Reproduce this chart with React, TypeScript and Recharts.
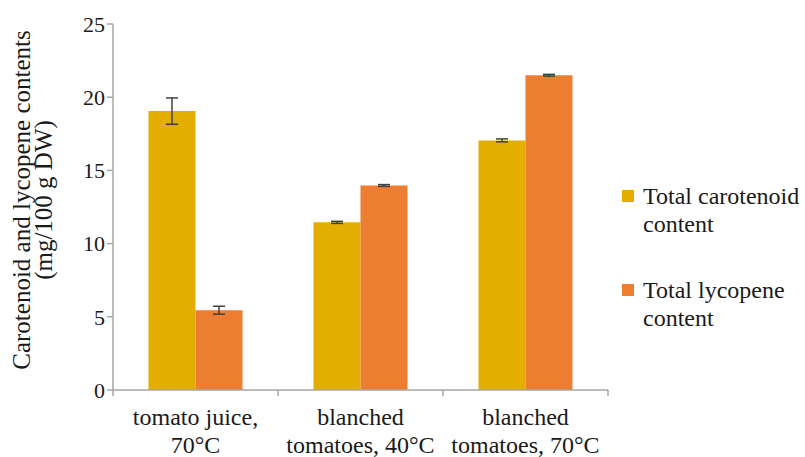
import { BarChart, Bar, XAxis, YAxis, ErrorBar, Legend } from "recharts";

const categories = ["tomato juice, 70°C", "blanched tomatoes, 40°C", "blanched tomatoes, 70°C"];
const categoryLines = [
  ["tomato juice,", "70°C"],
  ["blanched", "tomatoes, 40°C"],
  ["blanched", "tomatoes, 70°C"],
];
const carotenoid = [19.05, 11.45, 17.05];
const carotenoidErr = [0.9, 0.07, 0.1];
const lycopene = [5.45, 13.97, 21.5];
const lycopeneErr = [0.27, 0.06, 0.06];
const yTicks = [0, 5, 10, 15, 20, 25];

const data = categories.map((name, i) => ({
  name,
  carotenoid: carotenoid[i],
  carotenoidErr: carotenoidErr[i],
  lycopene: lycopene[i],
  lycopeneErr: lycopeneErr[i],
}));

const FONT = "'Liberation Serif', 'Times New Roman', serif";
const AXIS = "#a6a6a6";
const TEXT = "#1a1a1a";

function XTick(props: any) {
  const { x, y, payload, index } = props;
  const half = payload.offset || 0;
  const lines = categoryLines[index] || [String(payload.value)];
  return (
    <g>
      <line x1={x - half} y1={y} x2={x - half} y2={y + 6} stroke={AXIS} strokeWidth={1.5} />
      {index === categories.length - 1 && (
        <line x1={x + half} y1={y} x2={x + half} y2={y + 6} stroke={AXIS} strokeWidth={1.5} />
      )}
      <text x={x} y={y + 35} textAnchor="middle" fill={TEXT} fontSize={24} fontFamily={FONT}>
        {lines[0]}
      </text>
      <text x={x} y={y + 63} textAnchor="middle" fill={TEXT} fontSize={24} fontFamily={FONT}>
        {lines[1]}
      </text>
    </g>
  );
}

function YLabel(props: any) {
  const vb = props.viewBox || { y: 24, height: 366 };
  const cy = vb.y + vb.height / 2 - 7;
  return (
    <text
      transform={`translate(30, ${cy}) rotate(-90)`}
      textAnchor="middle"
      fill={TEXT}
      fontSize={25}
      fontFamily={FONT}
    >
      <tspan x={0} dy={0}>Carotenoid and lycopene contents</tspan>
      <tspan x={0} dy={22}>(mg/100 g DW)</tspan>
    </text>
  );
}

function LegendBox(props: any) {
  const items = props.payload || [];
  return (
    <div style={{ fontFamily: FONT, fontSize: 24, lineHeight: "28px", color: TEXT }}>
      {items.map((it: any, i: number) => {
        const words = String(it.value).split(" content");
        return (
          <div key={i} style={{ position: "relative", paddingLeft: 21, marginBottom: i === 0 ? 38 : 0 }}>
            <span
              style={{
                position: "absolute",
                left: 0,
                top: 8,
                width: 12,
                height: 12,
                background: it.color,
              }}
            />
            <div>{words[0]}</div>
            <div>content</div>
          </div>
        );
      })}
    </div>
  );
}

export default function App() {
  return (
    <div style={{ position: "absolute", left: 0, top: 0, background: "#fff" }}>
      <BarChart
        width={805}
        height={457}
        data={data}
        margin={{ top: 24, right: 197, bottom: 0, left: 0 }}
        barCategoryGap="21.5%"
        barGap={0}
      >
        <XAxis
          dataKey="name"
          height={67}
          axisLine={{ stroke: AXIS, strokeWidth: 1.5 }}
          tickLine={false}
          tickSize={0}
          tickMargin={0}
          tick={<XTick />}
          interval={0}
        />
        <YAxis
          width={113}
          domain={[0, 25]}
          ticks={yTicks}
          axisLine={{ stroke: AXIS, strokeWidth: 1.5 }}
          tickLine={{ stroke: AXIS, strokeWidth: 1.5 }}
          tickSize={6}
          tickMargin={2}
          tick={{ fill: TEXT, fontSize: 22, fontFamily: FONT }}
          label={{ content: <YLabel /> }}
        />
        <Legend
          layout="vertical"
          align="center"
          verticalAlign="middle"
          wrapperStyle={{ left: 622, top: 182, width: 183 }}
          content={<LegendBox />}
        />
        <Bar dataKey="carotenoid" name="Total carotenoid content" fill="#e3ae00" isAnimationActive={false}>
          <ErrorBar dataKey="carotenoidErr" width={6} stroke="#404040" strokeWidth={1.5} isAnimationActive={false} />
        </Bar>
        <Bar dataKey="lycopene" name="Total lycopene content" fill="#ed7d31" isAnimationActive={false}>
          <ErrorBar dataKey="lycopeneErr" width={6} stroke="#404040" strokeWidth={1.5} isAnimationActive={false} />
        </Bar>
      </BarChart>
    </div>
  );
}
